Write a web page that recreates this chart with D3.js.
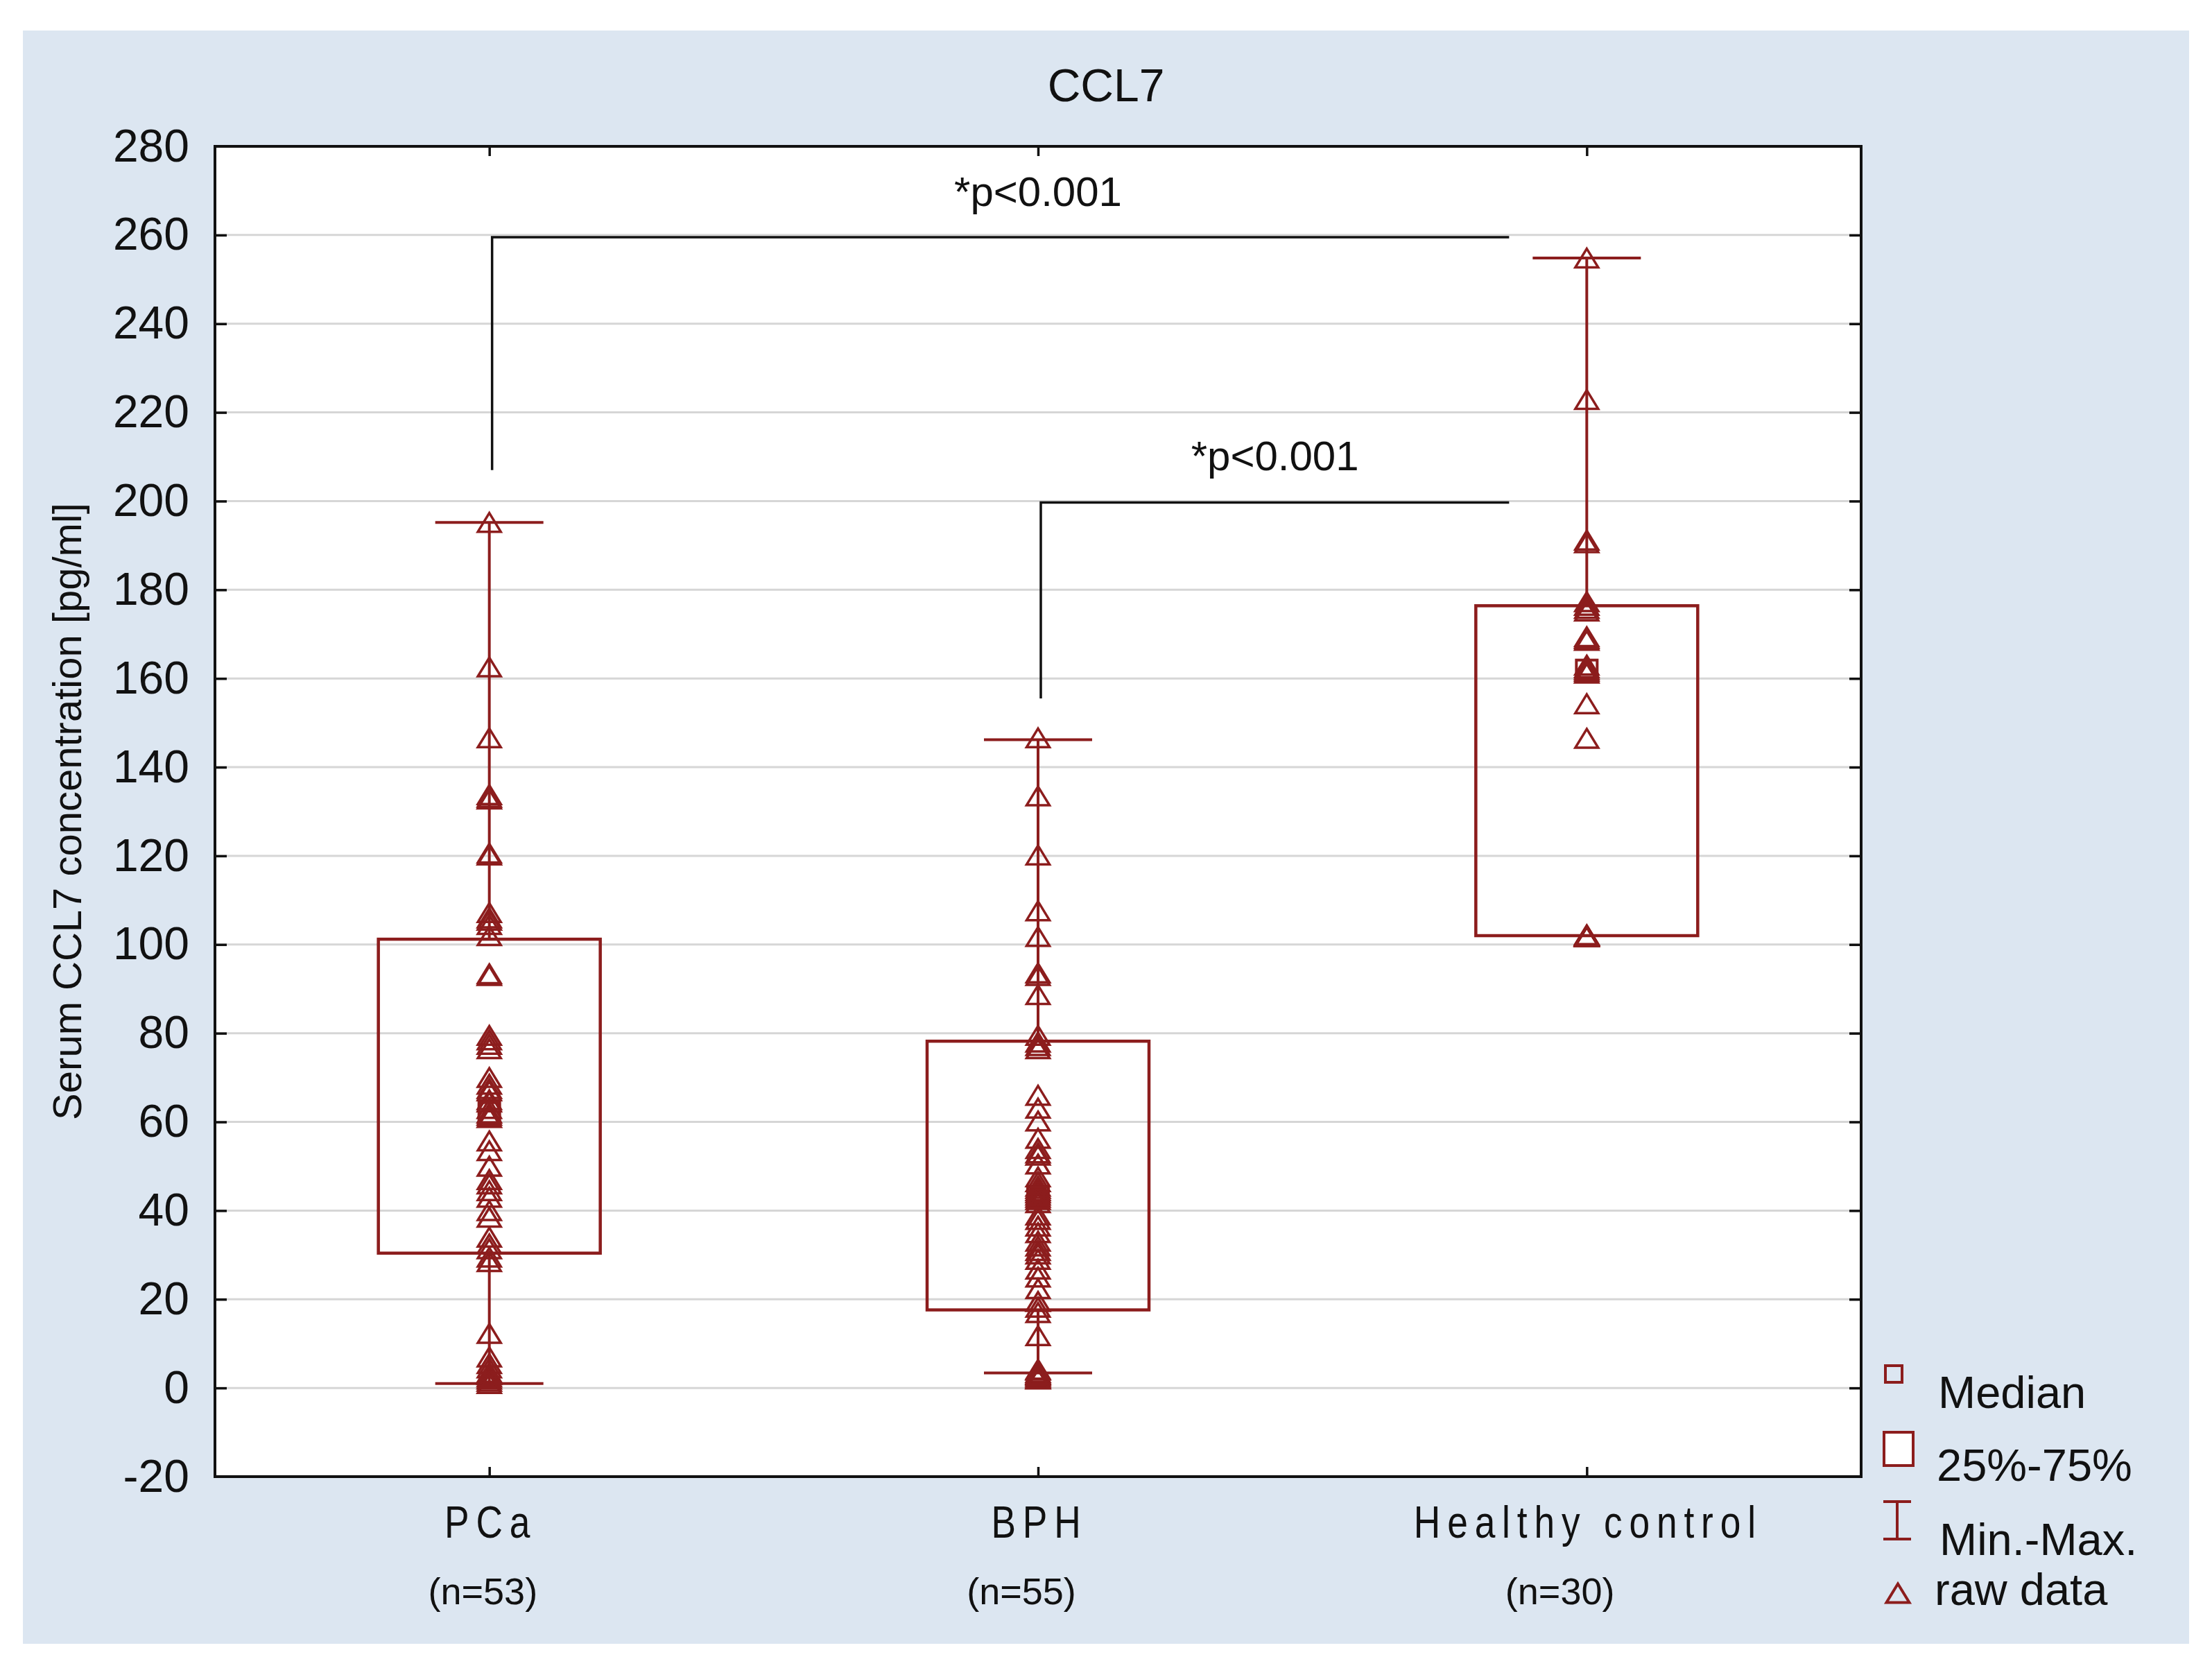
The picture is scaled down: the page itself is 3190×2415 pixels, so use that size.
<!DOCTYPE html>
<html>
<head>
<meta charset="utf-8">
<script src="https://cdn.jsdelivr.net/npm/d3@7"></script>
<style>
  html, body { margin: 0; padding: 0; background: #ffffff; }
  svg { display: block; }
  text { font-family: "Liberation Sans", Arial, sans-serif; fill: #111; }
</style>
</head>
<body>
<svg id="chart" width="3190" height="2415"></svg>
<script>
// ---------- data ----------
const categories = ["PCa", "BPH", "Healthy control"];
const categoryLabels = ["PCa", "BPH", "Healthy control"];
const nLabels = ["(n=53)", "(n=55)", "(n=30)"];
const medians = [62.0, 43.0, 161.8];
const q1 = [30.4, 17.6, 102.0];
const q3 = [101.2, 78.2, 176.4];
const minVals = [1.0, 3.4, 102.0];
const maxVals = [195.2, 146.2, 254.8];

const rawPCa = [195.2, 162.6, 146.6, 133.8, 133.2, 132.8, 120.6, 120.2, 107.2, 106.0, 105.5, 104.5, 102.0,
  93.4, 93.0, 79.5, 78.5, 77.5, 76.5, 70.0, 68.5, 67.5, 67.0, 65.0, 64.5, 63.0,
  62.0,
  61.5, 61.0, 55.7, 53.5, 50.0, 47.0, 46.0, 44.5, 43.0, 40.0, 38.5, 34.0, 32.5, 31.4,
  29.5, 28.5, 12.3, 7.0, 5.5, 4.5, 3.5, 3.0, 2.5, 2.0, 1.5, 1.0];
const rawBPH = [146.6, 133.5, 120.2, 107.6, 101.8, 93.6, 93.0, 88.7, 79.5, 78.0, 77.2, 76.5,
  66.0, 63.1, 60.2, 56.3, 54.0, 53.0, 52.5, 50.5, 47.6, 46.5, 45.5, 45.0, 44.5, 44.0, 43.5,
  43.0,
  42.5, 41.8, 39.0, 38.0, 36.5, 35.0, 33.1, 32.0, 31.0, 30.2, 29.0, 26.8, 25.0, 22.4, 19.5,
  18.2, 17.0, 11.8, 4.2, 4.0, 3.5, 3.2, 3.0, 2.8, 2.5, 2.2, 2.0];
const rawHC = [254.8, 222.9, 191.2, 190.6, 177.3, 176.5, 175.8, 175.2, 169.4, 169.0, 168.6,
  163.0, 162.4, 162.0, 161.6, 161.2, 154.3, 146.5,
  102.2, 102.1, 102.0, 102.0, 102.0, 102.0, 101.9, 101.9, 101.8, 101.8, 101.8, 101.8];
const rawData = [rawPCa, rawBPH, rawHC];

const yTicks = [-20, 0, 20, 40, 60, 80, 100, 120, 140, 160, 180, 200, 220, 240, 260, 280];
const gridValues = [0, 20, 40, 60, 80, 100, 120, 140, 160, 180, 200, 220, 240, 260];

// significance brackets: from group -> to group, horizontal level, lower end of the vertical leg
const bracketFrom = ["PCa", "BPH"];
const bracketTo = ["Healthy control", "Healthy control"];
const bracketLevel = [259.5, 199.7];
const bracketLow = [207.0, 155.5];
const bracketText = ["*p<0.001", "*p<0.001"];
const bracketTextValue = [266.5, 207.0];

const legendLabels = ["Median", "25%-75%", "Min.-Max.", "raw data"];

// ---------- layout ----------
const W = 3190, H = 2415;
const plot = { left: 310, right: 2684, top: 211, bottom: 2129 };
const RED = "#8c1d1d";

const svg = d3.select("#chart");

svg.append("rect").attr("x", 0).attr("y", 0).attr("width", W).attr("height", H).attr("fill", "#ffffff");
svg.append("rect").attr("x", 33).attr("y", 44).attr("width", 3124).attr("height", 2326).attr("fill", "#dce6f1");

const x = d3.scalePoint().domain(categories).range([plot.left, plot.right]).padding(0.5);
const xN = d3.scalePoint().domain(categories).range([308, 2638]).padding(0.5);
const y = d3.scaleLinear().domain([-20, 280]).range([plot.bottom, plot.top]);

// plot background
svg.append("rect")
  .attr("x", plot.left).attr("y", plot.top)
  .attr("width", plot.right - plot.left).attr("height", plot.bottom - plot.top)
  .attr("fill", "#ffffff");

// gridlines
svg.append("g").selectAll("line").data(gridValues).join("line")
  .attr("x1", plot.left).attr("x2", plot.right)
  .attr("y1", d => y(d)).attr("y2", d => y(d))
  .attr("stroke", "#d6d6d6").attr("stroke-width", 3);

// title
svg.append("text").attr("x", 1595).attr("y", 146)
  .attr("text-anchor", "middle").attr("font-size", 66).attr("fill", "#1a1a2a").text("CCL7");

// y axis (left) with inward ticks
const yAxisL = d3.axisLeft(y).tickValues(yTicks).tickSize(-17).tickPadding(37).tickFormat(d => String(d));
const gL = svg.append("g").attr("transform", `translate(${plot.left},0)`).call(yAxisL);
gL.select(".domain").remove();
gL.selectAll(".tick line").attr("stroke", "#111").attr("stroke-width", 3.5);
gL.selectAll(".tick text").attr("font-size", 66).attr("font-family", "'Liberation Sans', Arial, sans-serif").attr("fill", "#111");
gL.selectAll(".tick").filter(d => d === -20 || d === 280).select("line").remove();

// right axis inward ticks
const yAxisR = d3.axisRight(y).tickValues(yTicks.filter(d => d > -20 && d < 280)).tickSize(-17).tickFormat("");
const gR = svg.append("g").attr("transform", `translate(${plot.right},0)`).call(yAxisR);
gR.select(".domain").remove();
gR.selectAll(".tick line").attr("stroke", "#111").attr("stroke-width", 3.5);

// bottom and top inward ticks
const xAxisB = d3.axisBottom(x).tickSize(-14).tickFormat("");
const gB = svg.append("g").attr("transform", `translate(0,${plot.bottom})`).call(xAxisB);
gB.select(".domain").remove();
gB.selectAll(".tick line").attr("stroke", "#111").attr("stroke-width", 3.5);
const xAxisT = d3.axisTop(x).tickSize(-14).tickFormat("");
const gT = svg.append("g").attr("transform", `translate(0,${plot.top})`).call(xAxisT);
gT.select(".domain").remove();
gT.selectAll(".tick line").attr("stroke", "#111").attr("stroke-width", 3.5);

// y axis title
svg.append("text")
  .attr("transform", `translate(117,${(plot.top + plot.bottom) / 2}) rotate(-90)`)
  .attr("text-anchor", "middle").attr("font-size", 58).attr("fill", "#1a1a2a")
  .text("Serum CCL7 concentration [pg/ml]");

// x category labels (condensed, letter-spaced)
svg.append("g").selectAll("text").data(categories).join("text")
  .attr("transform", d => `translate(${x(d) + 2},2217) scale(0.82,1)`)
  .attr("text-anchor", "middle")
  .attr("font-size", 65).attr("letter-spacing", "12px").attr("fill", "#1a1a2a")
  .text((d, i) => categoryLabels[i]);

svg.append("g").selectAll("text").data(categories).join("text")
  .attr("x", d => xN(d)).attr("y", 2313)
  .attr("text-anchor", "middle").attr("font-size", 54).attr("fill", "#1a1a1a")
  .text((d, i) => nLabels[i]);

// boxes
const boxHalf = 160, capHalf = 78;
const groups = categories.map((c, i) => ({ c, i }));

const gBox = svg.append("g");
// whiskers
gBox.selectAll(".wh-up").data(groups).join("line")
  .attr("x1", d => x(d.c)).attr("x2", d => x(d.c))
  .attr("y1", d => y(q3[d.i])).attr("y2", d => y(maxVals[d.i]))
  .attr("stroke", RED).attr("stroke-width", 4);
gBox.selectAll(".wh-dn").data(groups).join("line")
  .attr("x1", d => x(d.c)).attr("x2", d => x(d.c))
  .attr("y1", d => y(q1[d.i])).attr("y2", d => y(minVals[d.i]))
  .attr("stroke", RED).attr("stroke-width", 4);
gBox.selectAll(".cap-up").data(groups).join("line")
  .attr("x1", d => x(d.c) - capHalf).attr("x2", d => x(d.c) + capHalf)
  .attr("y1", d => y(maxVals[d.i])).attr("y2", d => y(maxVals[d.i]))
  .attr("stroke", RED).attr("stroke-width", 4);
gBox.selectAll(".cap-dn").data(groups).join("line")
  .attr("x1", d => x(d.c) - capHalf).attr("x2", d => x(d.c) + capHalf)
  .attr("y1", d => y(minVals[d.i])).attr("y2", d => y(minVals[d.i]))
  .attr("stroke", RED).attr("stroke-width", 4);
// IQR boxes
gBox.selectAll("rect").data(groups).join("rect")
  .attr("x", d => x(d.c) - boxHalf).attr("width", boxHalf * 2)
  .attr("y", d => y(q3[d.i])).attr("height", d => y(q1[d.i]) - y(q3[d.i]))
  .attr("fill", "none").attr("stroke", RED).attr("stroke-width", 4.5);

// raw data triangles
const triW = 33, triH = 27;
const triPath = `M0,${-triH / 2}L${triW / 2},${triH / 2}L${-triW / 2},${triH / 2}Z`;
const pts = [];
rawData.forEach((arr, i) => arr.forEach(v => pts.push({ c: categories[i], v })));
svg.append("g").selectAll("path").data(pts).join("path")
  .attr("d", triPath)
  .attr("transform", d => `translate(${x(d.c)},${y(d.v)})`)
  .attr("fill", "none").attr("stroke", RED).attr("stroke-width", 3.5);

// median squares
const medS = 30;
svg.append("g").selectAll("rect").data(groups).join("rect")
  .attr("x", d => x(d.c) - medS / 2).attr("y", d => y(medians[d.i]) - medS / 2)
  .attr("width", medS).attr("height", medS)
  .attr("fill", "none").attr("stroke", RED).attr("stroke-width", 4);

// plot border
svg.append("rect")
  .attr("x", plot.left).attr("y", plot.top)
  .attr("width", plot.right - plot.left).attr("height", plot.bottom - plot.top)
  .attr("fill", "none").attr("stroke", "#111").attr("stroke-width", 4);

// significance brackets
const gSig = svg.append("g");
bracketFrom.forEach((from, k) => {
  const x0 = x(from) + 4;
  const x1 = x(bracketTo[k]) - boxHalf * 0.7;
  gSig.append("path")
    .attr("d", d3.line()([[x0, y(bracketLow[k])], [x0, y(bracketLevel[k])], [x1, y(bracketLevel[k])]]))
    .attr("fill", "none").attr("stroke", "#111").attr("stroke-width", 3.5);
  const tx = k === 0 ? x("BPH") : (x0 + x1) / 2;
  gSig.append("text").attr("x", tx).attr("y", y(bracketTextValue[k]))
    .attr("text-anchor", "middle").attr("font-size", 60).attr("fill", "#111")
    .text(bracketText[k]);
});

// legend
const gLeg = svg.append("g");
// median marker
gLeg.append("rect").attr("x", 2719).attr("y", 1969).attr("width", 24).attr("height", 24)
  .attr("fill", "none").attr("stroke", RED).attr("stroke-width", 4);
// box marker
gLeg.append("rect").attr("x", 2717).attr("y", 2065).attr("width", 42).attr("height", 48)
  .attr("fill", "#ffffff").attr("stroke", RED).attr("stroke-width", 4);
// min-max marker
gLeg.append("path").attr("d", "M2716,2165H2756M2736,2165V2219M2716,2219H2756")
  .attr("fill", "none").attr("stroke", RED).attr("stroke-width", 4);
// raw data marker
gLeg.append("path").attr("d", triPath).attr("transform", "translate(2737,2297)")
  .attr("fill", "none").attr("stroke", RED).attr("stroke-width", 4);

const legY = [2030, 2135, 2242, 2314];
const legX = [2795, 2793, 2797, 2790];
gLeg.selectAll("text").data(legendLabels).join("text")
  .attr("x", (d, i) => legX[i]).attr("y", (d, i) => legY[i])
  .attr("font-size", 65).attr("fill", "#111")
  .text(d => d);
</script>
</body>
</html>
